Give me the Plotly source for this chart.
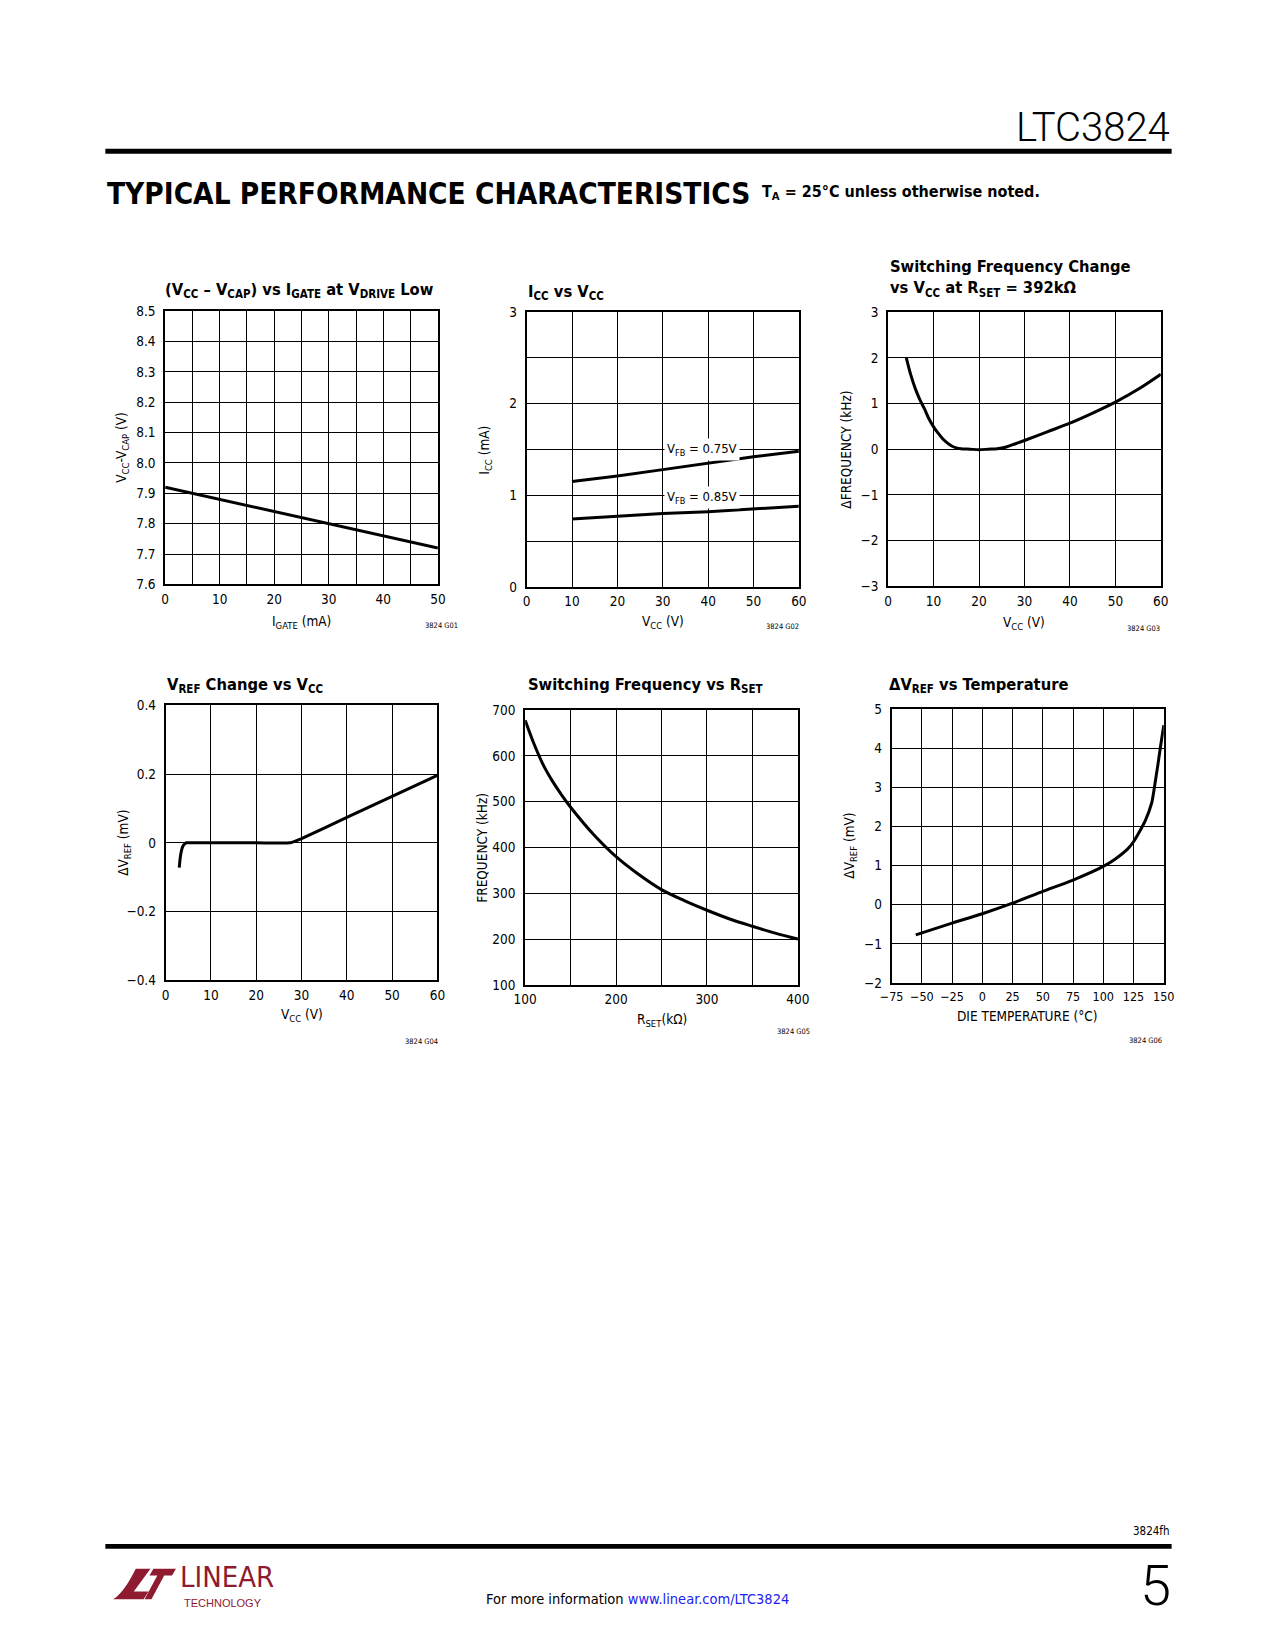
import plotly.graph_objects as go

# ---------------- data ----------------
g1_igate = [0, 10, 20, 30, 40, 50]
g1_vdiff = [7.92, 7.88, 7.84, 7.80, 7.76, 7.72]

g2_vcc = [10, 20, 30, 40, 50, 60]
g2_icc_075 = [1.15, 1.21, 1.28, 1.35, 1.42, 1.48]
g2_icc_085 = [0.74, 0.77, 0.80, 0.82, 0.85, 0.88]

g3_vcc = [4, 5, 6, 7, 8, 9, 10, 11, 12, 13, 14, 15, 16, 18, 20, 22, 24, 26, 28, 30, 35, 40, 45, 50, 55, 60]
g3_dfreq = [2.0, 1.62, 1.32, 1.08, 0.88, 0.66, 0.49, 0.35, 0.23, 0.14, 0.07, 0.03, 0.01, 0.0, -0.01, 0.0,
            0.01, 0.05, 0.12, 0.19, 0.38, 0.57, 0.79, 1.03, 1.31, 1.64]

g4_vcc = [3.0, 3.2, 3.5, 3.8, 4.2, 4.6, 5, 10, 20, 27.5, 28.5, 30, 40, 50, 60]
g4_dvref = [-0.072, -0.045, -0.022, -0.010, -0.003, 0.0, 0.0, 0.0, 0.0, 0.0, 0.004, 0.012, 0.074, 0.135, 0.196]

g5_rset = [100, 110, 120, 130, 140, 150, 175, 200, 225, 250, 275, 300, 325, 350, 375, 400]
g5_freq = [678, 625, 580, 545, 515, 488, 429, 380, 341, 308, 284, 263, 244, 228, 213, 200]

g6_temp = [-55, -25, 0, 25, 50, 75, 100, 110, 120, 125, 130, 135, 140, 141.5, 143, 145, 147, 150]
g6_dvref = [-0.77, -0.47, -0.23, 0.04, 0.34, 0.63, 0.98, 1.17, 1.42, 1.61, 1.87, 2.17, 2.6, 2.85, 3.15,
            3.55, 3.98, 4.59]

# ---------------- page geometry helpers ----------------
# the page body keeps its default 8px margin, so the figure is 16px smaller than the window
PAGE_W, PAGE_H = 1275, 1650
MARGIN = 8
W, H = PAGE_W - 2 * MARGIN, PAGE_H - 2 * MARGIN


def fx(x):
    return (x - MARGIN) / W


def fy(y):
    return 1 - (y - MARGIN) / H


NARROW = "DejaVu Sans Condensed, sans-serif"
THIN = "Roboto, Liberation Sans, sans-serif"
MAROON = "#8E1B30"

# plot boxes in page pixels: (left, right, top, bottom)
boxes = [
    (156, 434, 306, 582),
    (524.5, 802, 307, 584.5),
    (893, 1171, 307, 584),
    (156.5, 433.5, 704, 982),
    (523, 801, 709, 986.5),
    (896.5, 1174, 708, 984.5),
]

fig = go.Figure()

line_style = dict(color="black", width=3)
fig.add_trace(go.Scatter(x=g1_igate, y=g1_vdiff, mode="lines", line=line_style, xaxis="x", yaxis="y"))
fig.add_trace(go.Scatter(x=g2_vcc, y=g2_icc_075, mode="lines", line=line_style, xaxis="x2", yaxis="y2"))
fig.add_trace(go.Scatter(x=g2_vcc, y=g2_icc_085, mode="lines", line=line_style, xaxis="x2", yaxis="y2"))
fig.add_trace(go.Scatter(x=g3_vcc, y=g3_dfreq, mode="lines", line=dict(color="black", width=3, shape="spline", smoothing=0.8),
                         xaxis="x3", yaxis="y3"))
fig.add_trace(go.Scatter(x=g4_vcc, y=g4_dvref, mode="lines", line=dict(color="black", width=3, shape="spline", smoothing=0.5),
                         xaxis="x4", yaxis="y4"))
fig.add_trace(go.Scatter(x=g5_rset, y=g5_freq, mode="lines", line=dict(color="black", width=3, shape="spline", smoothing=1.0),
                         xaxis="x5", yaxis="y5"))
fig.add_trace(go.Scatter(x=g6_temp, y=g6_dvref, mode="lines", line=dict(color="black", width=3, shape="spline", smoothing=0.6),
                         xaxis="x6", yaxis="y6"))


def axis(domain, rng, dtick=None, minor=None, tickformat=None, ticklen=5, fsize=13.5):
    d = dict(domain=domain, range=rng, autorange=False, showline=True, linecolor="black", linewidth=2,
             mirror=True, showgrid=True, gridcolor="black", gridwidth=1, zeroline=False,
             ticks="outside", ticklen=ticklen, tickcolor="rgba(0,0,0,0)",
             tickfont=dict(family=NARROW, size=fsize, color="black"), fixedrange=True)
    if dtick is not None:
        d["dtick"] = dtick
        d["tick0"] = rng[0]
    if minor is not None:
        d["minor"] = dict(dtick=minor, tick0=rng[0], showgrid=True, gridcolor="black", gridwidth=1, ticklen=0)
    if tickformat:
        d["tickformat"] = tickformat
    return d


specs = [
    dict(x=dict(rng=[0, 50], dtick=10, minor=5), y=dict(rng=[7.6, 8.5], dtick=0.1, tickformat=".1f")),
    dict(x=dict(rng=[0, 60], dtick=10), y=dict(rng=[0, 3], dtick=1, minor=0.5)),
    dict(x=dict(rng=[0, 60], dtick=10), y=dict(rng=[-3, 3], dtick=1)),
    dict(x=dict(rng=[0, 60], dtick=10), y=dict(rng=[-0.4, 0.4], dtick=0.2)),
    dict(x=dict(rng=[100, 400], dtick=100, minor=50), y=dict(rng=[100, 700], dtick=100)),
    dict(x=dict(rng=[-75, 150], dtick=25, fsize=12.5), y=dict(rng=[-2, 5], dtick=1)),
]

layout = dict(width=W, height=H, margin=dict(l=0, r=0, t=0, b=0), paper_bgcolor="white",
              plot_bgcolor="white", showlegend=False, font=dict(family=NARROW, color="black"))
for i, (b, s) in enumerate(zip(boxes, specs), start=1):
    l, r, t, btm = b
    xa = axis([fx(l), fx(r)], ticklen=1, **s["x"])
    ya = axis([fy(btm), fy(t)], **s["y"])
    xa["anchor"] = "y" if i == 1 else f"y{i}"
    ya["anchor"] = "x" if i == 1 else f"x{i}"
    layout["xaxis" if i == 1 else f"xaxis{i}"] = xa
    layout["yaxis" if i == 1 else f"yaxis{i}"] = ya
fig.update_layout(**layout)

ann = []


def text(x, y, s, size, family=NARROW, xanchor="center", yanchor="middle", angle=0, color="black", align="left",
         bold=False, weight=None):
    if bold:
        s = "<b>" + s + "</b>"
    font = dict(family=family, size=size, color=color)
    if weight is not None:
        font["weight"] = weight
    ann.append(dict(xref="paper", yref="paper", x=fx(x), y=fy(y), text=s, showarrow=False, xanchor=xanchor,
                    yanchor=yanchor, textangle=angle, align=align, font=font))


# chart titles
TS = 16.4
text(154, 285, "(V<sub>CC</sub> – V<sub>CAP</sub>) vs I<sub>GATE</sub> at V<sub>DRIVE</sub> Low", TS, xanchor="left", bold=True)
text(524, 287, "I<sub>CC</sub> vs V<sub>CC</sub>", TS, xanchor="left", bold=True)
text(893, 273, "Switching Frequency Change<br>vs V<sub>CC</sub> at R<sub>SET</sub> = 392kΩ", TS, xanchor="left", bold=True)
text(155.5, 684, "V<sub>REF</sub> Change vs V<sub>CC</sub>", TS, xanchor="left", bold=True)
text(524, 684, "Switching Frequency vs R<sub>SET</sub>", TS, xanchor="left", bold=True)
text(892, 684, "ΔV<sub>REF</sub> vs Temperature", TS, xanchor="left", bold=True)

# axis titles
AS = 13.5
text(295, 620, "I<sub>GATE</sub> (mA)", AS)
text(112, 444, "V<sub>CC</sub>-V<sub>CAP</sub> (V)", AS, angle=-90)
text(663, 620, "V<sub>CC</sub> (V)", AS)
text(482, 446, "I<sub>CC</sub> (mA)", AS, angle=-90)
text(1032, 621, "V<sub>CC</sub> (V)", AS)
text(850, 446, "ΔFREQUENCY (kHz)", AS, angle=-90)
text(295, 1017, "V<sub>CC</sub> (V)", AS)
text(114, 843, "ΔV<sub>REF</sub> (mV)", AS, angle=-90)
text(662, 1022, "R<sub>SET</sub>(kΩ)", AS)
text(479, 848, "FREQUENCY (kHz)", AS, angle=-90)
text(1035, 1018, "DIE TEMPERATURE (°C)", AS)
text(854, 846, "ΔV<sub>REF</sub> (mV)", AS, angle=-90)

# figure codes
CS = 7.5
text(438, 624, "3824 G01", CS)
text(785, 625, "3824 G02", CS)
text(1153, 627, "3824 G03", CS)
text(417, 1044, "3824 G04", CS)
text(797, 1034, "3824 G05", CS)
text(1155, 1043, "3824 G06", CS)

# curve labels on chart 2
for yv, lab in [(1.5, "V<sub>FB</sub> = 0.75V"), (0.98, "V<sub>FB</sub> = 0.85V")]:
    ann.append(dict(xref="x2", yref="y2", x=38.6, y=yv, text=lab, showarrow=False, bgcolor="white",
                    borderpad=2, font=dict(family=NARROW, size=13, color="black")))

# page header / footer
text(1182, 121, "LTC3824", 40, family=THIN, xanchor="right", weight=300)
text(95, 188, "TYPICAL PERFORMANCE CHARACTERISTICS", 29.5, xanchor="left", bold=True)
text(762, 186, "T<sub>A</sub> = 25°C unless otherwise noted.", 16, xanchor="left", bold=True)
text(1182, 1538, "3824fh", 11.5, xanchor="right")
text(1183, 1594, "5", 56, family=THIN, xanchor="right", weight=300)
text(638, 1607, "For more information <span style='color:#2222EE'>www.linear.com/LTC3824</span>", 14.5)
text(169, 1604, "LINEAR", 29, xanchor="left", yanchor="bottom", color=MAROON)
text(173, 1603, "TECHNOLOGY", 11, family="Liberation Sans, sans-serif", xanchor="left", yanchor="top", color=MAROON)

fig.update_layout(annotations=ann)

shapes = []
for y0, y1 in [(142, 147), (1551, 1556)]:
    shapes.append(dict(type="rect", xref="paper", yref="paper", x0=fx(95), x1=fx(1182), y0=fy(y1), y1=fy(y0),
                       fillcolor="black", line=dict(width=0)))


def path(pts):
    out = ""
    for cmd, coords in pts:
        out += cmd + " " + " ".join(f"{fx(coords[i]):.5f},{fy(coords[i + 1]):.5f}" for i in range(0, len(coords), 2)) + " "
    return out + "Z"


logo_L = path([("M", (126, 1576)), ("L", (141, 1576)), ("L", (124, 1599)), ("L", (139, 1599)), ("L", (134, 1607)),
               ("L", (103, 1607)), ("C", (112, 1601, 119, 1590, 126, 1576))])
logo_T = path([("M", (144, 1576)), ("L", (167, 1576)), ("L", (163, 1583)), ("L", (155, 1583)), ("L", (142, 1607)),
               ("L", (135, 1607)), ("L", (148, 1583)), ("L", (140, 1583))])
for p in (logo_L, logo_T):
    shapes.append(dict(type="path", xref="paper", yref="paper", path=p, fillcolor=MAROON, line=dict(width=0)))
fig.update_layout(shapes=shapes)

fig.write_html("out.html", config={"displayModeBar": False, "staticPlot": True})
